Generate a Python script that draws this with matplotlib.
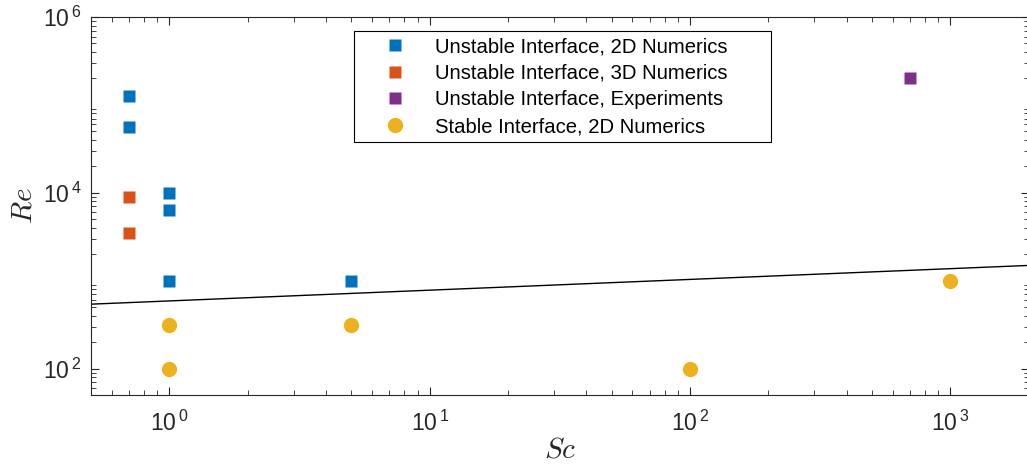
import math
import matplotlib.pyplot as plt
import matplotlib.ticker as mticker

plt.rcParams['font.family'] = ['Liberation Sans', 'DejaVu Sans']
plt.rcParams['mathtext.fontset'] = 'cm'

# data
sc_2d = [0.7, 0.7, 1, 1, 1, 5]
re_2d = [1.25e5, 5.6e4, 1e4, 6300, 1000, 1000]
sc_3d = [0.7, 0.7]
re_3d = [9000, 3500]
sc_exp = [700]
re_exp = [2e5]
sc_stable = [1, 1, 5, 100, 1000]
re_stable = [316, 100, 316, 100, 1000]
# boundary line (end points)
sc_line = [0.5, 2000]
re_line = [540, 1490]

blue = '#0072BD'
orange = '#D95319'
purple = '#7E2F8E'
yellow = '#EDB120'
axc = '#262626'

fig = plt.figure(figsize=(10.27, 4.66), dpi=100)
ax = fig.add_axes([0.0886, 0.1524, 0.913, 0.8111])

ax.plot(sc_line, re_line, color='black', lw=1.0, zorder=1)
ax.plot(sc_2d, re_2d, 's', color=blue, ms=8.5, mec='none', label='Unstable Interface, 2D Numerics')
ax.plot(sc_3d, re_3d, 's', color=orange, ms=8.5, mec='none', label='Unstable Interface, 3D Numerics')
ax.plot(sc_exp, re_exp, 's', color=purple, ms=8.5, mec='none', label='Unstable Interface, Experiments')
ax.plot(sc_stable, re_stable, 'o', color=yellow, ms=11, mec='none', label='Stable Interface, 2D Numerics')

ax.set_xscale('log')
ax.set_yscale('log')
ax.set_xlim(0.5, 2000)
ax.set_ylim(50, 1e6)

ax.xaxis.set_major_locator(mticker.LogLocator(base=10, numticks=10))
ax.yaxis.set_major_locator(mticker.FixedLocator([1e2, 1e4, 1e6]))
ax.yaxis.set_minor_locator(mticker.LogLocator(base=10, subs=range(2, 10), numticks=20))

def sci(v, pos):
    e = int(round(math.log10(v)))
    return r'$\mathdefault{10^{\,%d}}$' % e

ax.xaxis.set_major_formatter(mticker.FuncFormatter(sci))
ax.yaxis.set_major_formatter(mticker.FuncFormatter(sci))

for s in ax.spines.values():
    s.set_color(axc)
    s.set_linewidth(0.8)
ax.tick_params(which='both', direction='in', top=True, right=True, colors=axc, labelsize=16.5)
ax.tick_params(which='major', length=6, width=0.8)
ax.tick_params(which='minor', length=3.5, width=0.6)
ax.tick_params(axis='x', pad=11)
ax.tick_params(axis='y', pad=7)

ax.set_xlabel('$Sc$', fontsize=21, color=axc, labelpad=0)
ax.set_ylabel('$Re$', fontsize=21, color=axc, labelpad=4)

leg = ax.legend(loc='upper left', bbox_to_anchor=(0.28, 0.963, 0.445, 0), mode='expand',
                fontsize=14.6, frameon=True, fancybox=False, framealpha=1, edgecolor='black',
                handlelength=3.5, handletextpad=0.2, borderpad=0.3, labelspacing=0.38,
                borderaxespad=0)
leg.get_frame().set_linewidth(0.8)

fig.savefig('out.png', dpi=100)
